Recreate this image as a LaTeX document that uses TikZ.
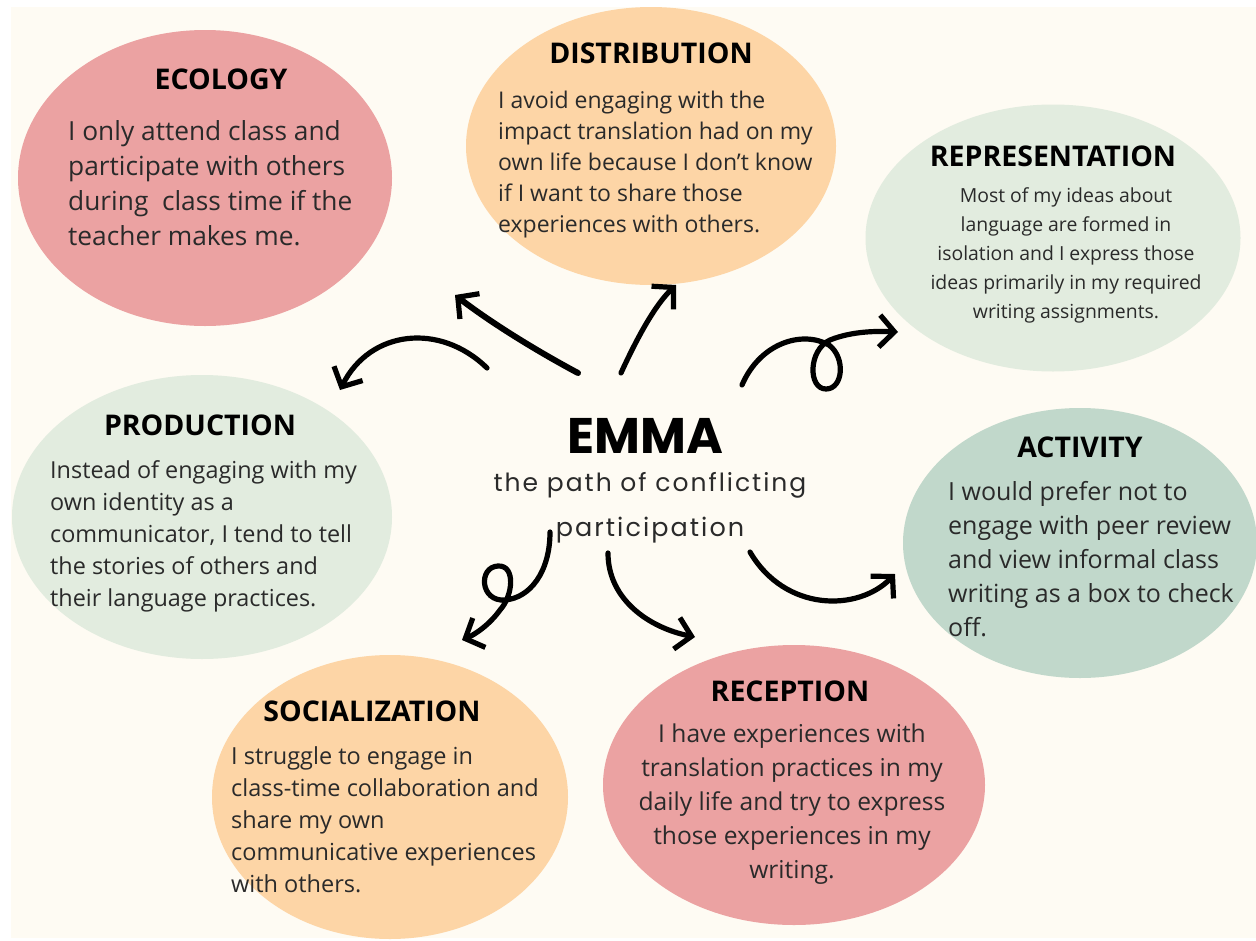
\documentclass[tikz,border=0pt]{standalone}
\usepackage{fontspec}
\setmainfont{Open Sans}
\newfontfamily\emmafont{Poppins}
\usetikzlibrary{shapes.geometric,arrows.meta}
\definecolor{bgcream}{HTML}{FEFBF3}
\definecolor{rosefill}{HTML}{EBA2A2}
\definecolor{peachfill}{HTML}{FDD5A6}
\definecolor{mintfill}{HTML}{E2ECDF}
\definecolor{sagefill}{HTML}{C1D8CB}
\definecolor{inktext}{HTML}{2A2A2A}
\tikzset{
  bubble/.style={ellipse, draw=none, inner sep=0pt},
  heading/.style={font=\fontsize{28.5}{32}\selectfont\bfseries, text=black, inner sep=0pt, anchor=center},
  bodyleft/.style={text=inktext, inner sep=0pt, anchor=north west, align=left},
  bodymid/.style={text=inktext, inner sep=0pt, anchor=north, align=center},
  arr/.style={line width=5.2pt, line cap=round, line join=round, black,
    -{Straight Barb[length=15pt, width=32pt, line width=5.2pt]}},
}
\begin{document}
\begin{tikzpicture}[x=1pt, y=-1pt]
% page and cream panel
\fill[white] (0,0) rectangle (1256,940);
\fill[bgcream] (11,7) rectangle (1256,938);
\useasboundingbox (0,0) rectangle (1256,940);

% bubbles
\node[bubble, fill=rosefill,  minimum width=374pt, minimum height=296pt] (eco)  at (205,178) {};
\node[bubble, fill=peachfill, minimum width=370pt, minimum height=278pt] (dist) at (651,146) {};
\node[bubble, fill=mintfill,  minimum width=375pt, minimum height=267pt] (rep)  at (1053,238) {};
\node[bubble, fill=mintfill,  minimum width=380pt, minimum height=284pt] (prod) at (202,517) {};
\node[bubble, fill=sagefill,  minimum width=354pt, minimum height=270pt] (act)  at (1080,543) {};
\node[bubble, fill=peachfill, minimum width=356pt, minimum height=284pt] (soc)  at (390,797) {};
\node[bubble, fill=rosefill,  minimum width=382pt, minimum height=280pt] (rec)  at (794,785) {};

% headings
\node[heading] (ecoT)  at (221,79)  {ECOLOGY};
\node[heading] (distT) at (651,53)  {DISTRIBUTION};
\node[heading] (repT)  at (1053,156) {REPRESENTATION};
\node[heading] (prodT) at (200,425) {PRODUCTION};
\node[heading] (actT)  at (1080,447) {ACTIVITY};
\node[heading] (socT)  at (372,711) {SOCIALIZATION};
\node[heading] (recT)  at (790,691) {RECEPTION};

% body texts
\node[bodyleft, font=\fontsize{26.3}{35}\selectfont] (ecoB) at (68,120)
  {I only attend class and\\participate with others\\during\ \ class time if the\\teacher makes me.};
\node[bodyleft, font=\fontsize{23}{31}\selectfont] (distB) at (498,91)
  {I avoid engaging with the\\impact translation had on my\\own life because I don't know\\if I want to share those\\experiences with others.};
\node[bodymid, font=\fontsize{19.4}{29}\selectfont] (repB) at (1066,187)
  {Most of my ideas about\\language are formed in\\isolation and I express those\\ideas primarily in my required\\writing assignments.};
\node[bodyleft, font=\fontsize{23.4}{32}\selectfont] (prodB) at (50,460)
  {Instead of engaging with my\\own identity as a\\communicator, I tend to tell\\the stories of others and\\their language practices.};
\node[bodyleft, font=\fontsize{25}{34}\selectfont] (actB) at (948,481)
  {I would prefer not to\\engage with peer review\\and view informal class\\writing as a box to check\\off.};
\node[bodyleft, font=\fontsize{23.5}{32}\selectfont] (socB) at (231,746)
  {I struggle to engage in\\class-time collaboration and\\share my own\\communicative experiences\\with others.};
\node[bodymid, font=\fontsize{24.6}{33.8}\selectfont] (recB) at (792,724)
  {I have experiences with\\translation practices in my\\daily life and try to express\\those experiences in my\\writing.};

% centre title
\node[inner sep=0pt, font=\emmafont\bfseries\fontsize{50}{56}\selectfont] (emma) at (645,436) {EMMA};
\node[inner sep=0pt, font=\emmafont\fontsize{25}{30}\selectfont, text=inktext] (sub1) at (650,485)
  {\addfontfeatures{LetterSpace=8}the path of conflicting};
\node[inner sep=0pt, font=\emmafont\fontsize{25.5}{30}\selectfont, text=inktext] (sub2) at (650,530)
  {\addfontfeatures{LetterSpace=8}participation};

% arrow ends
\coordinate (s1) at (578,373); \coordinate (e1) at (455,295);
\coordinate (s2) at (487,368); \coordinate (e2) at (340,390);
\coordinate (s3) at (621,373); \coordinate (e3) at (676,285);
\coordinate (s4) at (742,385); \coordinate (e4) at (898,332);
\coordinate (s5) at (750,552); \coordinate (e5) at (895,574);
\coordinate (s6) at (608,553); \coordinate (e6) at (695,637);
\coordinate (s7) at (550,532); \coordinate (e7) at (462,640);

% arrows
\draw[arr, line width=6pt] (s1) .. controls (535,350) and (490,322) .. (e1);
\draw[arr] (s2) .. controls (440,322) and (370,330) .. (e2);
\draw[arr] (s3) .. controls (637,338) and (655,305) .. (e3);
\draw[arr] (s4) .. controls (760,343) and (802,330) .. (829,345)
  .. controls (846,358) and (843,389) .. (826,389)
  .. controls (808,389) and (808,350) .. (830,340)
  .. controls (852,331) and (878,331) .. (e4);
\draw[arr] (s5) .. controls (785,612) and (858,612) .. (e5);
\draw[arr] (s6) .. controls (608,600) and (650,628) .. (e6);
\draw[arr] (s7) .. controls (550,572) and (530,598) .. (505,600)
  .. controls (480,602) and (478,567) .. (498,566)
  .. controls (516,565) and (513,596) .. (500,610)
  .. controls (490,624) and (476,634) .. (e7);
\end{tikzpicture}
\end{document}
